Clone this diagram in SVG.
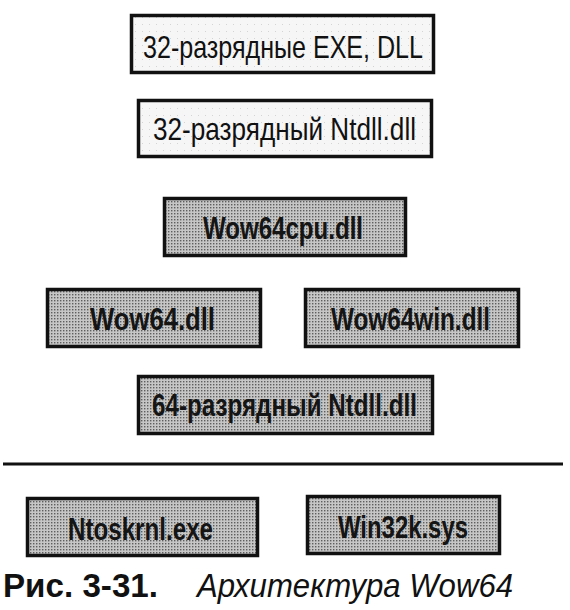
<svg xmlns="http://www.w3.org/2000/svg" width="570" height="610" viewBox="0 0 570 610">
<defs>
<pattern id="dots" width="3" height="3" patternUnits="userSpaceOnUse">
<rect width="3" height="3" fill="#c6c6c6"/>
<rect x="0" y="0" width="1.4" height="1.4" fill="#5e5e5e"/>
</pattern>
<pattern id="light" width="7" height="7" patternUnits="userSpaceOnUse">
<rect width="7" height="7" fill="#f6f6f6"/>
<rect x="2" y="3" width="1" height="1" fill="#d4d4d4"/>
</pattern>
</defs>
<style>
.lb{fill:url(#light);stroke:#111;stroke-width:3.5}
.gb{fill:url(#dots);stroke:#111;stroke-width:3.5}
.t{font-family:"Liberation Sans",Arial,sans-serif;font-size:32px;fill:#111}
.tb{font-family:"Liberation Sans",Arial,sans-serif;font-size:32px;font-weight:bold;fill:#151515}
.cap{font-family:"Liberation Sans",Arial,sans-serif;font-size:33px;fill:#111}
</style>
<rect width="570" height="610" fill="#ffffff"/>
<g id="n1"><rect class="lb" x="131.5" y="15.5" width="302" height="57"/><text class="t" x="143" y="58" textLength="280" lengthAdjust="spacingAndGlyphs">32-разрядные EXE, DLL</text></g>
<g id="n2"><rect class="lb" x="138.5" y="100.5" width="293" height="56"/><text class="t" x="153" y="140" textLength="263" lengthAdjust="spacingAndGlyphs">32-разрядный Ntdll.dll</text></g>
<g id="n3"><rect class="gb" x="164.5" y="198.5" width="241" height="57"/><text class="tb" x="203" y="239" textLength="160" lengthAdjust="spacingAndGlyphs">Wow64cpu.dll</text></g>
<g id="n4"><rect class="gb" x="47.5" y="289.5" width="213" height="57"/><text class="tb" x="90" y="330" textLength="125" lengthAdjust="spacingAndGlyphs">Wow64.dll</text></g>
<g id="n5"><rect class="gb" x="305.5" y="289.5" width="213" height="57"/><text class="tb" x="331" y="330" textLength="159" lengthAdjust="spacingAndGlyphs">Wow64win.dll</text></g>
<g id="n6"><rect class="gb" x="138.5" y="376.5" width="294" height="57"/><text class="tb" x="152" y="416" textLength="265" lengthAdjust="spacingAndGlyphs">64-разрядный Ntdll.dll</text></g>
<g id="connectors"><line x1="3" y1="464" x2="563" y2="464" stroke="#111" stroke-width="3"/></g>
<g id="n7"><rect class="gb" x="27.5" y="498.5" width="230" height="57"/><text class="tb" x="68" y="540" textLength="145" lengthAdjust="spacingAndGlyphs">Ntoskrnl.exe</text></g>
<g id="n8"><rect class="gb" x="307.5" y="496.5" width="192" height="57"/><text class="tb" x="338" y="538" textLength="130" lengthAdjust="spacingAndGlyphs">Win32k.sys</text></g>
<g id="caption"><text class="cap" x="3" y="597" font-weight="bold" textLength="155" lengthAdjust="spacingAndGlyphs">Рис. 3-31.</text><text class="cap" x="197" y="597" font-style="italic" textLength="316" lengthAdjust="spacingAndGlyphs">Архитектура Wow64</text></g>
</svg>
